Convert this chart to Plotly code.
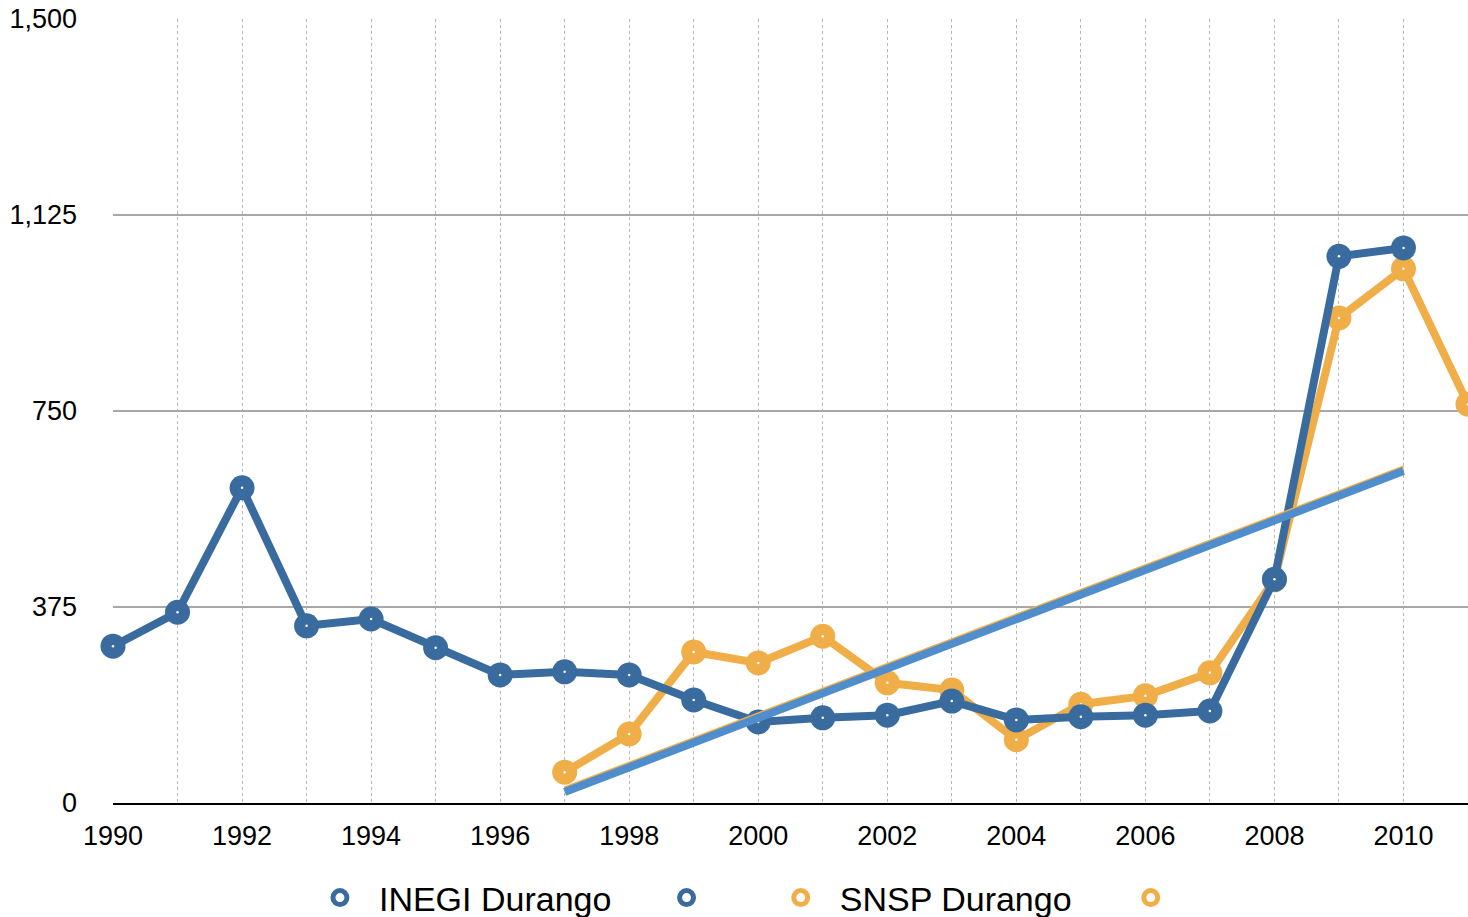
import plotly.graph_objects as go

# INEGI Durango (blue), 1990-2010
inegi_years = list(range(1990, 2011))
inegi_vals = [300, 365, 603, 339, 352, 297, 245, 251, 245, 197, 155,
              163, 168, 195, 159, 165, 168, 176, 428, 1046, 1062]

# SNSP Durango (orange), 1997-2011
snsp_years = list(range(1997, 2012))
snsp_vals = [59, 132, 289, 268, 319, 230, 216, 121, 189, 205, 249,
             427, 928, 1022, 763]

# trend lines (end points)
trend_years = [1997, 2010]
inegi_trend = [21, 635]
snsp_trend = [29, 643]

y_ticks = [0, 375, 750, 1125, 1500]
y_tick_labels = ["0", "375", "750", "1,125", "1,500"]

BLUE = "#3a6b9e"
ORANGE = "#efae48"
TREND_BLUE = "#4f8dcc"
FONT = "Liberation Sans, Arial, sans-serif"
NB = "\u00a0"
HAIR = "\u200a"
THIN = "\u2009"

fig = go.Figure()

# data lines
for xs, ys, col in [(snsp_years, snsp_vals, ORANGE), (inegi_years, inegi_vals, BLUE)]:
    fig.add_trace(go.Scatter(
        x=xs, y=ys, mode="lines+markers", showlegend=False, cliponaxis=False,
        line=dict(color=col, width=8),
        marker=dict(symbol="circle", size=25, color=col, line=dict(width=0)),
    ))
    fig.add_trace(go.Scatter(
        x=xs, y=ys, mode="markers", showlegend=False, cliponaxis=False,
        marker=dict(symbol="circle", size=2.5, color="white", line=dict(width=0)),
        hoverinfo="skip",
    ))

# trend lines
fig.add_trace(go.Scatter(x=trend_years, y=snsp_trend, mode="lines", showlegend=False,
                         line=dict(color=ORANGE, width=3)))
fig.add_trace(go.Scatter(x=trend_years, y=inegi_trend, mode="lines", showlegend=False,
                         line=dict(color=TREND_BLUE, width=8)))

# legend-only entries (padding keeps the spacing of the original legend)
legend_items = [("INEGI Durango" + NB * 3 + HAIR, BLUE), (NB * 3 + HAIR, BLUE),
                ("SNSP Durango" + NB * 3 + THIN, ORANGE), (NB, ORANGE)]
for name, col in legend_items:
    fig.add_trace(go.Scatter(
        x=[None], y=[None], mode="markers", name=name,
        marker=dict(symbol="circle-open", size=14, color=col, line=dict(width=6)),
    ))

fig.update_layout(
    width=1468, height=917,
    paper_bgcolor="white", plot_bgcolor="white",
    margin=dict(l=113, r=0, t=19, b=114),
    font=dict(family=FONT, color="black", size=27),
    showlegend=True,
    legend=dict(orientation="h", x=0.1387, xanchor="left",
                yref="container", y=1 - 898 / 917, yanchor="middle",
                font=dict(size=34), itemwidth=68, traceorder="normal"),
    xaxis=dict(
        range=[1990, 2011], dtick=2, tick0=1990,
        showgrid=True, gridcolor="#b8b8b8", griddash="dot", gridwidth=1,
        minor=dict(dtick=1, showgrid=True, gridcolor="#b8b8b8", griddash="dot", gridwidth=1),
        showline=True, linecolor="black", linewidth=2,
        zeroline=False, ticks="", ticklabelstandoff=8,
        tickfont=dict(size=27),
    ),
    yaxis=dict(
        range=[0, 1500], tickvals=y_ticks, ticktext=y_tick_labels,
        showgrid=True, gridcolor="#a8a8a8", gridwidth=2,
        zeroline=False, showline=False, ticks="", ticklabelstandoff=35,
        tickfont=dict(size=27),
    ),
)

fig.write_html("out.html", config={"displayModeBar": False},
               post_script="document.body.style.margin='0';document.body.style.overflow='hidden';")
